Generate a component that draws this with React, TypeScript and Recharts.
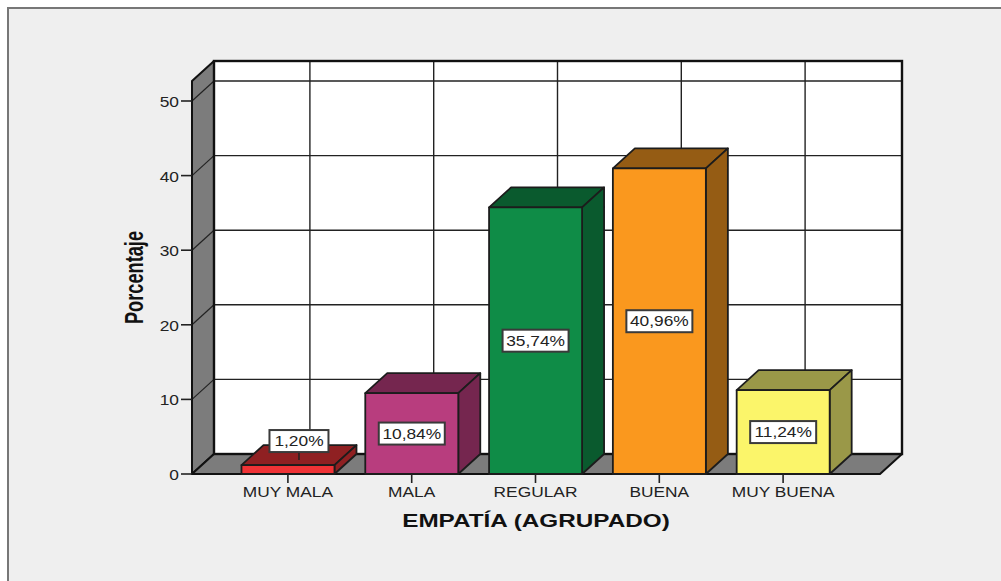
import React from 'react';
import { BarChart, Bar, XAxis, YAxis, CartesianGrid, LabelList, Label, usePlotArea } from 'recharts';

const categories = ['MUY MALA', 'MALA', 'REGULAR', 'BUENA', 'MUY BUENA'];
const percentages = [1.2, 10.84, 35.74, 40.96, 11.24];
const yTicks = [0, 10, 20, 30, 40, 50];
const frontColors = ['#f03336', '#b83d7e', '#0f8c47', '#fa981e', '#fbf56a'];
const darkColors = ['#8f2022', '#75264f', '#0a5a2e', '#955c14', '#9a9848'];
const rows = categories.map((name, i) => ({ name, value: percentages[i] }));

const DX = 22;
const DY = -20;
const Y_MAX = 52.68;
const PAD_L = 34;
const PAD_R = 35;
const FONT = '"Liberation Sans", Arial, sans-serif';
const INK = '#222';
const STRETCH = 1.24;

function Walls() {
  const p = usePlotArea();
  if (!p) return null;
  const { x, y, width: w, height: h } = p;
  const b = y + h;
  return (
    <g stroke="#111" strokeWidth={2} strokeLinejoin="round">
      <polygon points={`${x},${y} ${x + DX},${y + DY} ${x + DX},${b + DY} ${x},${b}`} fill="#7c7c7c" />
      <polygon points={`${x},${b} ${x + DX},${b + DY} ${x + w + DX},${b + DY} ${x + w},${b}`} fill="#7c7c7c" />
    </g>
  );
}

function WallDiagonals() {
  const p = usePlotArea();
  if (!p) return null;
  const { x, y, height: h } = p;
  return (
    <g stroke="#222" strokeWidth={1.2}>
      {yTicks.slice(1).map((t) => {
        const yy = y + h - (t / Y_MAX) * h;
        return <line key={t} x1={x} y1={yy} x2={x + DX} y2={yy + DY} />;
      })}
    </g>
  );
}

function BackFrame() {
  const p = usePlotArea();
  if (!p) return null;
  return <rect x={p.x + DX} y={p.y + DY} width={p.width} height={p.height} fill="none" stroke="#111" strokeWidth={2.4} />;
}

function FrontAxis() {
  const p = usePlotArea();
  if (!p) return null;
  const { x, y, width: w, height: h } = p;
  return (
    <g stroke="#111" strokeWidth={2}>
      <line x1={x} y1={y + h} x2={x + w} y2={y + h} />
      <line x1={x} y1={y} x2={x} y2={y + h} />
    </g>
  );
}

function Box3D(props: any) {
  const { x, y, width: w, height: h, index } = props;
  const front = frontColors[index];
  const dark = darkColors[index];
  return (
    <g stroke="#1c1c1c" strokeWidth={1.8} strokeLinejoin="round">
      <polygon points={`${x},${y} ${x + DX},${y + DY} ${x + w + DX},${y + DY} ${x + w},${y}`} fill={dark} />
      <polygon points={`${x + w},${y} ${x + w + DX},${y + DY} ${x + w + DX},${y + h + DY} ${x + w},${y + h}`} fill={dark} />
      <rect x={x} y={y} width={w} height={h} fill={front} />
    </g>
  );
}

function ValueBox(props: any) {
  const { x, y, width: w, height: h, value, index } = props;
  const text = Number(value).toFixed(2).replace('.', ',') + '%';
  const small = index === 0;
  const cx = x + w / 2 + (small ? 11 : 0);
  const cy = small ? y - 24 : y + h / 2;
  const bw = small ? 59 : 66;
  return (
    <g>
      {small && <line x1={cx} y1={cy + 11} x2={cx} y2={cy + 19} stroke="#222" strokeWidth={1.5} />}
      <rect x={cx - bw / 2} y={cy - 11} width={bw} height={22} fill="#fff" stroke="#3a3a3a" strokeWidth={2} />
      <g transform={`translate(${cx},${cy + 5}) scale(${STRETCH},1)`}>
        <text textAnchor="middle" fontFamily={FONT} fontSize={14} fill={INK}>{text}</text>
      </g>
    </g>
  );
}

function XTick(props: any) {
  const { x, y, payload } = props;
  return (
    <g transform={`translate(${x},${y + 12}) scale(${STRETCH},1)`}>
      <text textAnchor="middle" fontFamily={FONT} fontSize={14} fill={INK}>{payload.value}</text>
    </g>
  );
}

function YTick(props: any) {
  const { x, y, payload } = props;
  return (
    <g transform={`translate(${x},${y + 6}) scale(${STRETCH},1)`}>
      <text textAnchor="end" fontFamily={FONT} fontSize={14} fill={INK}>{payload.value}</text>
    </g>
  );
}

function XTitle(props: any) {
  const { viewBox } = props;
  const cx = viewBox.x + viewBox.width / 2;
  return (
    <g transform={`translate(${cx},527) scale(1.35,1)`}>
      <text textAnchor="middle" fontFamily={FONT} fontSize={18} fontWeight={700} fill="#111">EMPATÍA (AGRUPADO)</text>
    </g>
  );
}

function YTitle() {
  return (
    <g transform="translate(143,277.5) rotate(-90) scale(0.7,1)">
      <text textAnchor="middle" fontFamily={FONT} fontSize={26} fontWeight={700} fill="#111">Porcentaje</text>
    </g>
  );
}

const backH = ({ offset }: any) => yTicks.map((t) => offset.top + offset.height * (1 - t / Y_MAX) + DY);
const backV = ({ offset }: any) =>
  categories.map((_, i) => offset.left + PAD_L + ((i + 0.5) * (offset.width - PAD_L - PAD_R)) / categories.length + DX);

export default function App() {
  return (
    <div style={{ position: 'absolute', left: 0, top: 0, width: 1001, height: 581, background: '#fff', overflow: 'hidden' }}>
      <div style={{ position: 'absolute', left: 7, top: 7, width: 994, height: 574, boxSizing: 'border-box', background: '#efefef', borderLeft: '2px solid #777', borderTop: '2px solid #777' }} />
      <div style={{ position: 'absolute', left: 0, top: 0 }}>
        <BarChart
          width={1001}
          height={581}
          data={rows}
          margin={{ top: 81, right: 121, bottom: 67, left: 132 }}
          barCategoryGap="12.5%"
        >
          <CartesianGrid
            x={192 + DX}
            y={81 + DY}
            width={688}
            height={393}
            stroke="#222"
            strokeWidth={1.4}
            fill="#fff"
            fillOpacity={1}
            horizontalCoordinatesGenerator={backH}
            verticalCoordinatesGenerator={backV}
          />
          <Walls />
          <WallDiagonals />
          <BackFrame />
          <XAxis
            dataKey="name"
            height={40}
            padding={{ left: PAD_L, right: PAD_R }}
            interval={0}
            tickSize={9}
            tick={<XTick />}
            axisLine={false}
            tickLine={{ stroke: '#222', strokeWidth: 1.6 }}
          >
            <Label content={<XTitle />} />
          </XAxis>
          <YAxis
            width={60}
            domain={[0, Y_MAX]}
            ticks={yTicks}
            tickSize={11}
            tick={<YTick />}
            axisLine={false}
            tickLine={{ stroke: '#222', strokeWidth: 1.6 }}
          >
            <Label content={<YTitle />} />
          </YAxis>
          <Bar dataKey="value" shape={<Box3D />} isAnimationActive={false}>
            <LabelList dataKey="value" content={<ValueBox />} />
          </Bar>
          <FrontAxis />
        </BarChart>
      </div>
    </div>
  );
}
